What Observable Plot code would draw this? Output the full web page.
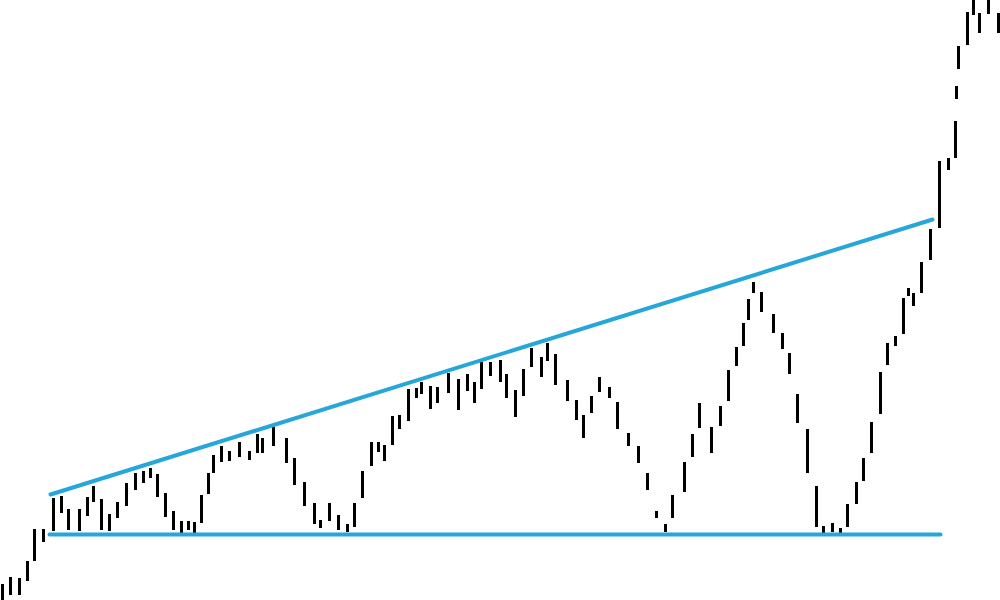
<!DOCTYPE html>
<html>
<head>
<meta charset="utf-8">
<script src="https://cdn.jsdelivr.net/npm/d3@7"></script>
<script src="https://cdn.jsdelivr.net/npm/@observablehq/plot@0.6"></script>
<style>
  html, body { margin: 0; padding: 0; background: #fff; }
  #chart svg { display: block; }
</style>
</head>
<body>
<div id="chart"></div>
<script>
// Session (time) index of each price bar
const day = [2,10,19,27,34,43,53,61,68,79,87,93,101,109,117,126,135,143,150,157,
  165,173,181,188,194,201,208,213,221,229,239,249,257,262,273,286,294,304,314,320,
  329,338,347,354,362,371,378,384,392,399,408,416,421,430,437,448,458,467,474,481,
  490,500,506,515,523,531,541,547,555,567,576,583,591,599,609,617,628,638,647,656,
  665,672,684,692,699,711,720,728,736,743,748,753,761,773,782,789,797,807,816,823,
  832,840,847,856,863,871,880,887,895,903,908,913,921,930,939,948,955,956,958,967,
  973,979,988,998];
// Bar high prices
const high = [16,23,22,39,71,71,102,104,91,91,103,114,101,86,98,117,127,129,132,126,
  107,89,79,79,78,105,127,145,154,149,158,149,166,162,173,162,142,118,97,80,
  97,85,76,97,129,158,158,155,184,185,211,212,218,214,213,227,221,226,218,238,
  238,240,226,210,231,252,243,257,246,220,200,185,204,223,213,198,167,154,127,89,
  76,105,138,166,197,173,194,230,253,277,301,318,308,286,267,247,206,171,114,74,
  77,72,96,118,142,178,228,257,264,302,312,307,338,371,439,442,479,514,554,588,
  605,587,605,587];
// Bar low prices
const low = [-5,5,5,19,39,58,69,87,70,69,84,98,70,69,82,94,110,117,122,103,
  83,70,67,70,67,77,106,127,138,139,143,140,147,147,154,137,115,94,76,72,
  79,70,68,73,102,134,148,139,155,171,179,202,206,191,197,207,190,209,197,211,
  224,218,202,183,204,233,223,239,215,199,180,162,187,208,202,171,154,137,110,82,
  68,82,108,143,172,147,174,199,234,254,280,307,288,267,251,226,177,127,73,66,
  68,66,73,96,119,147,186,235,254,266,304,294,307,340,372,430,442,501,531,555,
  585,567,586,567];
// Trend lines: resistance (rising) and support (flat)
const resistanceDay = [50, 932];
const resistancePrice = [106, 381];
const supportDay = [49, 940];
const supportPrice = [66, 66];

const bars = day.map((d, i) => ({day: d, high: high[i], low: low[i]}));
const resistance = resistanceDay.map((d, i) => ({day: d, price: resistancePrice[i]}));
const support = supportDay.map((d, i) => ({day: d, price: supportPrice[i]}));

const chart = Plot.plot({
  width: 1000,
  height: 600,
  margin: 0,
  x: {domain: [0, 1000], axis: null},
  y: {domain: [0, 600], axis: null},
  marks: [
    Plot.ruleX(bars, {x: "day", y1: "low", y2: "high", stroke: "#000", strokeWidth: 3}),
    Plot.line(resistance, {x: "day", y: "price", stroke: "#27a7d9", strokeWidth: 4}),
    Plot.line(support, {x: "day", y: "price", stroke: "#27a7d9", strokeWidth: 4})
  ]
});
document.getElementById("chart").appendChild(chart);
</script>
</body>
</html>
